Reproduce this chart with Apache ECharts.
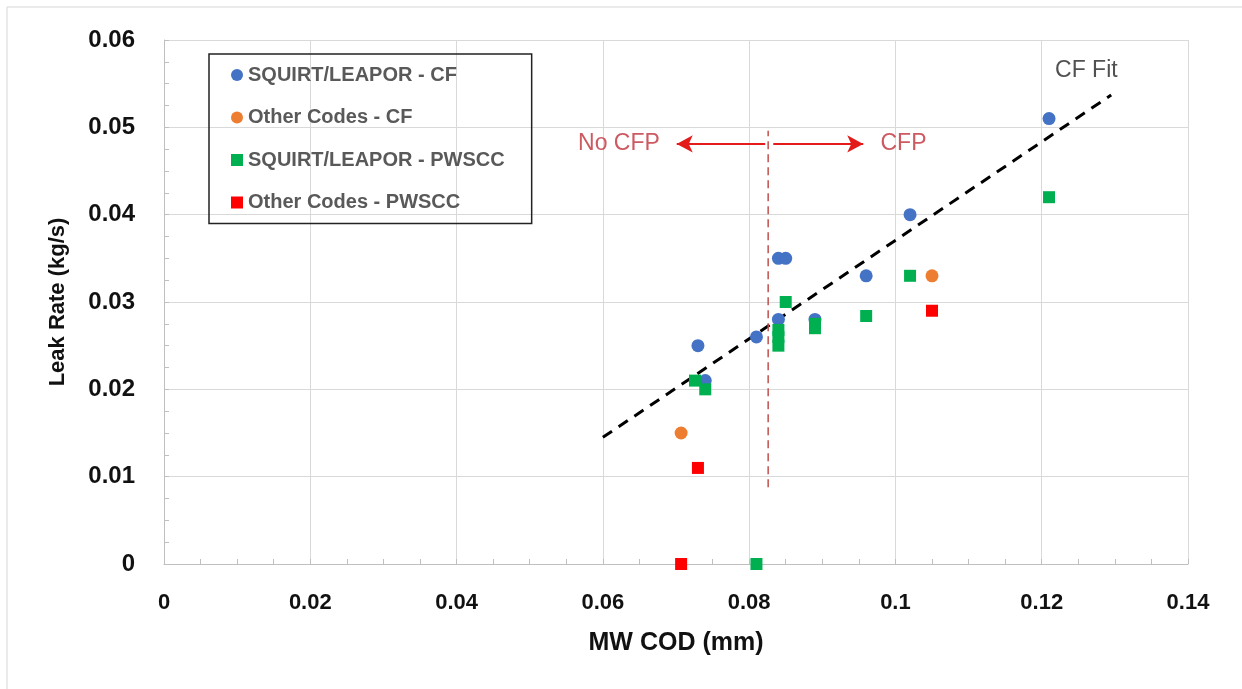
<!DOCTYPE html>
<html>
<head>
<meta charset="utf-8">
<script src="https://cdn.jsdelivr.net/npm/echarts@6/dist/echarts.min.js"></script>
<style>
  html, body { margin: 0; padding: 0; background: #ffffff; }
  #chart { width: 1242px; height: 689px; }
</style>
</head>
<body>
<div id="chart"></div>
<script>
// [MW COD (mm), Leak Rate (kg/s)]
const cfSquirt = [[0.073, 0.025], [0.074, 0.021], [0.081, 0.026], [0.084, 0.035], [0.085, 0.035],
  [0.084, 0.028], [0.089, 0.028], [0.096, 0.033], [0.102, 0.040], [0.121, 0.051]];
const cfOther = [[0.0707, 0.015], [0.105, 0.033]];
const pwsccSquirt = [[0.0726, 0.021], [0.074, 0.020], [0.084, 0.0268], [0.084, 0.026], [0.084, 0.025],
  [0.085, 0.030], [0.089, 0.0275], [0.089, 0.027], [0.096, 0.0284], [0.102, 0.033], [0.121, 0.042], [0.081, 0]];
const pwsccOther = [[0.073, 0.011], [0.0707, 0], [0.105, 0.029]];
const cfFit = [[0.06, 0.0145], [0.1295, 0.0537]];
const cfpDivide = [[0.0826, 0.0088], [0.0826, 0.0496]];
const arrowLeft = [[0.0822, 0.0481], [0.0701, 0.0481]];
const arrowRight = [[0.0833, 0.0481], [0.0956, 0.0481]];
const notes = [
  { text: "No CFP", at: [0.0622, 0.0481], color: "#c0303a" },
  { text: "CFP", at: [0.1011, 0.0481], color: "#c0303a" },
  { text: "CF Fit", at: [0.1261, 0.0565], color: "#262626" }
];

const names = ["SQUIRT/LEAPOR - CF", "Other Codes - CF", "SQUIRT/LEAPOR - PWSCC", "Other Codes - PWSCC"];
const colors = ["#4472c4", "#ed7d31", "#00b050", "#ff0000"];

const chart = echarts.init(document.getElementById("chart"));

const axisCommon = {
  axisLine: { show: true, lineStyle: { color: "#bfbfbf", width: 1 } },
  axisTick: { show: true, inside: true, length: 5, lineStyle: { color: "#bfbfbf" } },
  minorTick: { show: true, splitNumber: 4, length: 5, lineStyle: { color: "#bfbfbf" } },
  splitLine: { show: true, lineStyle: { color: "#d9d9d9", width: 1 } }
};

const scatter = (i, data, symbol, size) => ({
  name: names[i],
  type: "scatter",
  data,
  symbol,
  symbolSize: size,
  clip: false,
  z: 3,
  itemStyle: { color: colors[i], opacity: 1 }
});

const option = {
  backgroundColor: "#ffffff",
  animation: false,
  textStyle: { fontFamily: "'Liberation Sans', Arial, sans-serif" },
  grid: { left: 164, top: 40, width: 1024, height: 524 },
  legend: {
    data: names,
    orient: "vertical",
    left: 209,
    top: 54,
    padding: [11, 27, 11, 22],
    itemGap: 22.5,
    itemWidth: 12,
    itemHeight: 12,
    borderColor: "#222222",
    borderWidth: 1.5,
    textStyle: { fontSize: 20, fontWeight: "bold", color: "#595959" }
  },
  xAxis: {
    type: "value",
    min: 0,
    max: 0.14,
    interval: 0.02,
    name: "MW COD (mm)",
    nameLocation: "middle",
    nameGap: 67,
    nameTextStyle: { fontSize: 25, fontWeight: "bold", color: "#111111" },
    axisLabel: { margin: 28, fontSize: 22, fontWeight: "bold", color: "#111111" },
    ...axisCommon
  },
  yAxis: {
    type: "value",
    min: 0,
    max: 0.06,
    interval: 0.01,
    name: "Leak Rate (kg/s)",
    nameLocation: "middle",
    nameGap: 95,
    nameRotate: 90,
    nameTextStyle: { fontSize: 22, fontWeight: "bold", color: "#111111" },
    axisLabel: { margin: 29, fontSize: 24, fontWeight: "bold", color: "#111111" },
    ...axisCommon
  },
  graphic: [
    {
      type: "rect",
      shape: { x: 7, y: 7, width: 1300, height: 800 },
      style: { fill: "none", stroke: "#d6d6d6", lineWidth: 1 },
      silent: true
    }
  ],
  series: [
    {
      type: "line",
      data: cfFit,
      symbol: "none",
      z: 2,
      lineStyle: { color: "#000000", width: 3, type: [11, 8] }
    },
    {
      type: "line",
      data: cfpDivide,
      symbol: "none",
      z: 2,
      lineStyle: { color: "#c0504d", width: 1.5, type: [8, 5] },
      markLine: {
        silent: true,
        symbol: ["none", "arrow"],
        symbolSize: [13, 16],
        label: { show: false },
        lineStyle: { color: "#e31b1b", width: 2, type: "solid" },
        data: [
          [{ coord: arrowLeft[0] }, { coord: arrowLeft[1] }],
          [{ coord: arrowRight[0] }, { coord: arrowRight[1] }]
        ]
      }
    },
    {
      type: "scatter",
      data: notes.map(n => ({ value: n.at, name: n.text, label: { color: n.color } })),
      symbolSize: 0,
      z: 4,
      label: {
        show: true,
        position: "inside",
        formatter: p => p.name,
        fontSize: 23,
        fontFamily: "'Liberation Sans', Arial, sans-serif"
      }
    },
    scatter(0, cfSquirt, "circle", 13),
    scatter(1, cfOther, "circle", 13),
    scatter(2, pwsccSquirt, "rect", 12),
    scatter(3, pwsccOther, "rect", 12)
  ]
};

chart.setOption(option);
</script>
</body>
</html>
